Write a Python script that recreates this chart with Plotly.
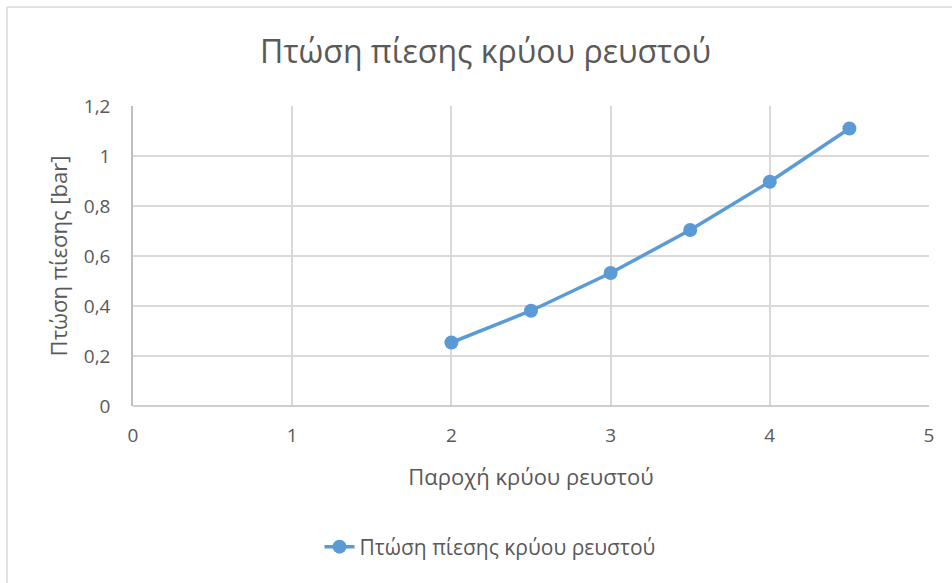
import plotly.graph_objects as go

# Cold-fluid flow rate vs. pressure drop
flow = [2, 2.5, 3, 3.5, 4, 4.5]
pressure_drop = [0.254, 0.381, 0.532, 0.704, 0.897, 1.110]
series_name = "Πτώση πίεσης κρύου ρευστού"

W, H = 952, 583
L, R, T, B = 133, 23, 106, 177
pw, ph = W - L - R, H - T - B

def px(x):
    return (x - L) / pw

def py(y):
    return (H - B - y) / ph

text_col = "#595959"
grid_col = "#D9D9D9"
font_family = "Open Sans, sans-serif"

fig = go.Figure()
fig.add_trace(go.Scatter(
    x=flow, y=pressure_drop, name=series_name, mode="lines+markers",
    line=dict(color="#5B9BD5", width=3.5),
    marker=dict(color="#5B9BD5", size=14),
))

fig.update_layout(
    width=W, height=H,
    margin=dict(l=L, r=R, t=T, b=B),
    paper_bgcolor="white", plot_bgcolor="white",
    separators=",.",
    font=dict(family=font_family, color=text_col, size=18),
    title=dict(text="Πτώση πίεσης κρύου ρευστού", x=0.51, xanchor="center",
               y=1 - 52 / H, yanchor="middle",
               font=dict(size=32, color=text_col, family=font_family)),
    showlegend=True,
    legend=dict(orientation="h", x=px(490), xanchor="center", y=py(547), yanchor="middle",
                font=dict(size=21, color=text_col)),
    xaxis=dict(range=[0, 5], dtick=1, showgrid=True, gridcolor=grid_col, gridwidth=1.5,
               zeroline=False, showline=False, ticks="",
               tickfont=dict(size=19, color=text_col), ticklabelstandoff=16,
               title=dict(text="Παροχή κρύου ρευστού", font=dict(size=22, color=text_col), standoff=22)),
    yaxis=dict(range=[0, 1.2], dtick=0.2, showgrid=True, gridcolor=grid_col, gridwidth=1.5,
               zeroline=False, showline=True, linecolor="#BFBFBF", linewidth=1.5, ticks="",
               tickfont=dict(size=19, color=text_col), ticklabelstandoff=17,
               title=dict(text="Πτώση πίεσης [bar]", font=dict(size=22, color=text_col), standoff=10)),
)

# bottom axis line
fig.add_shape(type="line", xref="paper", yref="paper", x0=0, x1=1, y0=0, y1=0,
              line=dict(color="#BFBFBF", width=1.5), layer="above")
# chart frame (left and top edges)
fig.add_shape(type="line", xref="paper", yref="paper", x0=px(7), x1=px(7), y0=py(7), y1=py(H + 5),
              line=dict(color="#D9D9D9", width=1.5))
fig.add_shape(type="line", xref="paper", yref="paper", x0=px(7), x1=px(W + 5), y0=py(7), y1=py(7),
              line=dict(color="#D9D9D9", width=1.5))

fig.write_html("out.html")
